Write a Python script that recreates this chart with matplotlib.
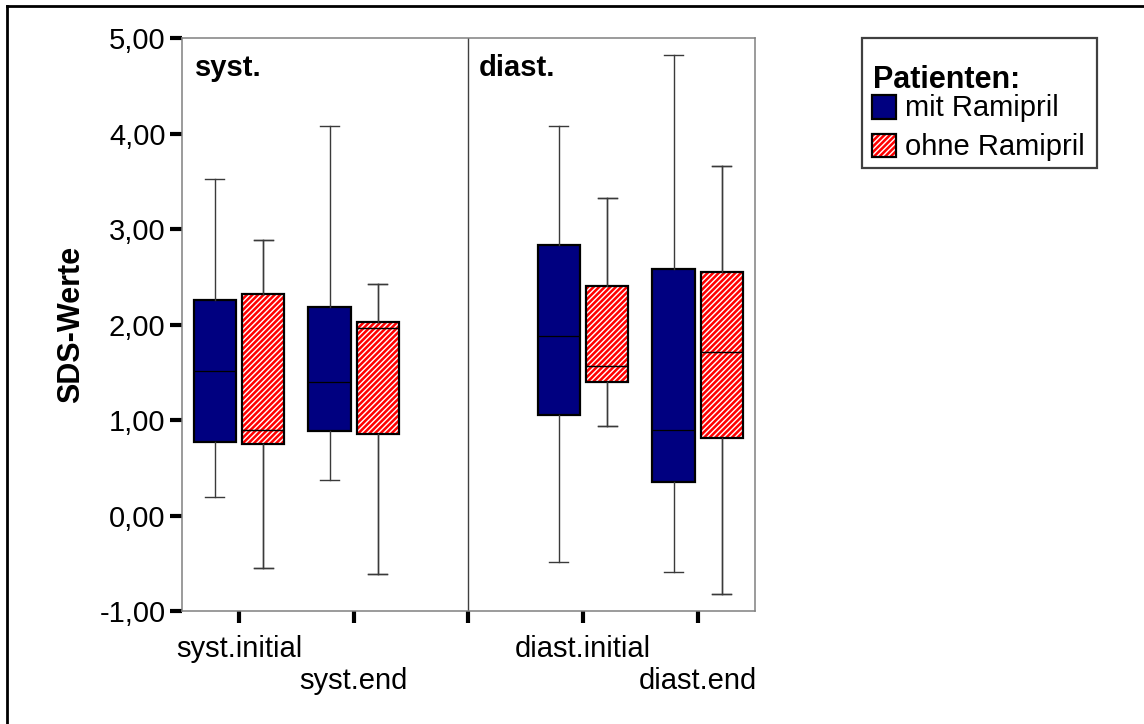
import matplotlib
matplotlib.use("Agg")
import matplotlib.pyplot as plt
from matplotlib.patches import Rectangle
from matplotlib.lines import Line2D

plt.rcParams['font.family'] = ['Liberation Sans', 'DejaVu Sans']
plt.rcParams['hatch.linewidth'] = 1.0

# Boxplot-Kennwerte
groups = ["syst.initial", "syst.end", "diast.initial", "diast.end"]
group_pos = [1, 2, 4, 5]
tick_labels = ["syst.initial", "\nsyst.end", "", "diast.initial", "\ndiast.end"]

mit_whislo = [0.19, 0.37, -0.485, -0.59]
mit_q1 = [0.77, 0.89, 1.05, 0.355]
mit_med = [1.51, 1.40, 1.88, 0.90]
mit_q3 = [2.26, 2.18, 2.83, 2.58]
mit_whishi = [3.53, 4.08, 4.08, 4.82]

ohne_whislo = [-0.55, -0.61, 0.94, -0.82]
ohne_q1 = [0.75, 0.855, 1.40, 0.81]
ohne_med = [0.90, 1.97, 1.565, 1.715]
ohne_q3 = [2.32, 2.03, 2.40, 2.55]
ohne_whishi = [2.89, 2.43, 3.33, 3.66]

yticks = [-1, 0, 1, 2, 3, 4, 5]

NAVY = "#000080"
RED = "#ff0000"
HATCH = "//////"
W, H = 1144, 724


def make_stats(lo, q1, med, q3, hi):
    return [dict(whislo=a, q1=b, med=c, q3=d, whishi=e, fliers=[])
            for a, b, c, d, e in zip(lo, q1, med, q3, hi)]


fig = plt.figure(figsize=(W / 100, H / 100), dpi=100)
ax = fig.add_axes([181.7 / W, 1 - 611 / H, 573.3 / W, 572.7 / H])

off = 0.21
bw = 0.37
capw = 0.165
whisk = dict(color="#3a3a3a", linewidth=1.0)
med_kw = dict(color="black", linewidth=0.9)

# mit Ramipril
ax.bxp(make_stats(mit_whislo, mit_q1, mit_med, mit_q3, mit_whishi),
       positions=[p - off for p in group_pos], widths=bw, capwidths=capw,
       patch_artist=True, showfliers=False,
       boxprops=dict(facecolor=NAVY, edgecolor="black", linewidth=1.6),
       whiskerprops=whisk, capprops=whisk, medianprops=med_kw)

# ohne Ramipril: erst Schraffur (weiss), dann Umriss
ohne_stats = make_stats(ohne_whislo, ohne_q1, ohne_med, ohne_q3, ohne_whishi)
ax.bxp(ohne_stats, positions=[p + off for p in group_pos], widths=bw,
       capwidths=capw, patch_artist=True, showfliers=False,
       boxprops=dict(facecolor=RED, edgecolor="white", hatch=HATCH, linewidth=0),
       whiskerprops=whisk, capprops=whisk, medianprops=med_kw)
ax.bxp(ohne_stats, positions=[p + off for p in group_pos], widths=bw,
       capwidths=capw, patch_artist=True, showfliers=False,
       boxprops=dict(facecolor="none", edgecolor="black", linewidth=1.6),
       whiskerprops=whisk, capprops=whisk, medianprops=med_kw)

ax.axvline(3, color="#404040", linewidth=1.0)

ax.set_xlim(0.5, 5.5)
ax.set_ylim(-1, 5)
ax.set_xticks([1, 2, 3, 4, 5])
ax.set_xticklabels(tick_labels, fontsize=21, linespacing=1.15)
ax.set_yticks(yticks)
ax.set_yticklabels([f"{v:.2f}".replace(".", ",") for v in yticks], fontsize=21)
ax.tick_params(axis="both", direction="out", length=8.6, width=3, color="black")
ax.tick_params(axis="y", pad=3)
ax.tick_params(axis="x", pad=9)
for s in ax.spines.values():
    s.set_color("#808080")
    s.set_linewidth(1.1)

ax.set_ylabel("SDS-Werte", fontsize=22, fontweight="bold")
ax.yaxis.set_label_coords(-0.166, 0.5)

ax.text(0.023, 0.935, "syst.", transform=ax.transAxes, fontsize=21,
        fontweight="bold", va="baseline", ha="left")
ax.text(0.519, 0.935, "diast.", transform=ax.transAxes, fontsize=21,
        fontweight="bold", va="baseline", ha="left")


# Legende (Pixelkoordinaten)
def fx(px):
    return px / W


def fy(py):
    return 1 - py / H


fig.add_artist(Rectangle((fx(862), fy(168)), fx(1097) - fx(862), fy(38) - fy(168),
                         transform=fig.transFigure, facecolor="white",
                         edgecolor="#404040", linewidth=1.6))
fig.text(fx(873), fy(88), "Patienten:", fontsize=22, fontweight="bold", va="baseline")
fig.add_artist(Rectangle((fx(872), fy(119)), fx(896) - fx(872), fy(95) - fy(119),
                         transform=fig.transFigure, facecolor=NAVY,
                         edgecolor="black", linewidth=1.6))
fig.add_artist(Rectangle((fx(872), fy(157)), fx(896) - fx(872), fy(134) - fy(157),
                         transform=fig.transFigure, facecolor=RED, edgecolor="white",
                         hatch=HATCH, linewidth=0))
fig.add_artist(Rectangle((fx(872), fy(157)), fx(896) - fx(872), fy(134) - fy(157),
                         transform=fig.transFigure, facecolor="none",
                         edgecolor="black", linewidth=1.6))
fig.text(fx(905), fy(116), "mit Ramipril", fontsize=21, va="baseline")
fig.text(fx(905), fy(155), "ohne Ramipril", fontsize=21, va="baseline")

# aeusserer Rahmen (nur links und oben sichtbar)
fig.add_artist(Line2D([fx(6.5), fx(6.5)], [0, fy(5.5)], transform=fig.transFigure,
                      color="black", linewidth=2))
fig.add_artist(Line2D([fx(6.5), 1], [fy(5.5), fy(5.5)], transform=fig.transFigure,
                      color="black", linewidth=2))

fig.savefig("out.png", dpi=100)
